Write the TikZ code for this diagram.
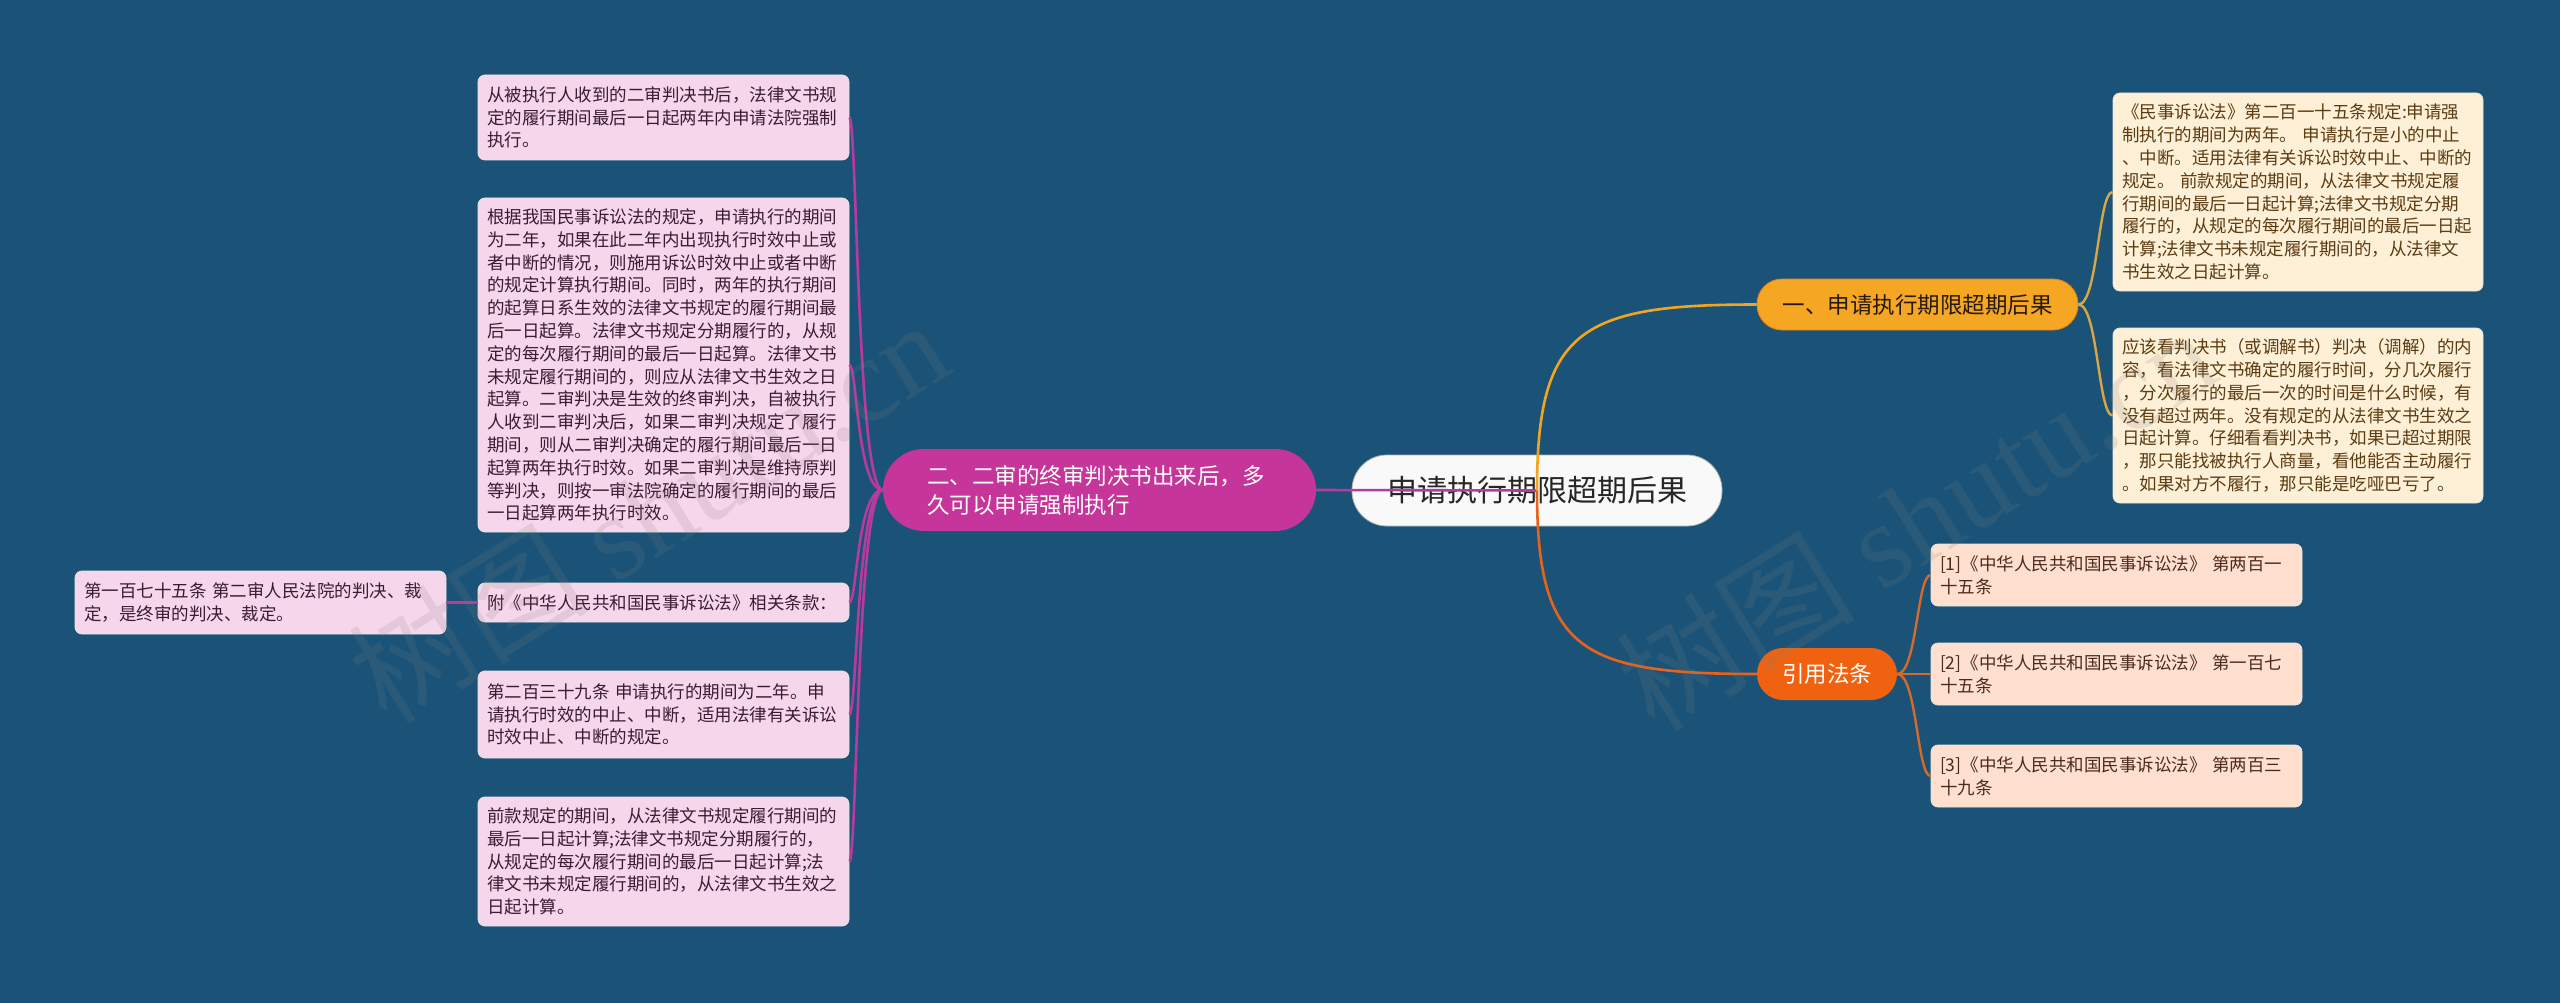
\documentclass[tikz,border=0pt]{standalone}
\usepackage{fontspec}
\setmainfont{Noto Sans CJK SC}
\newfontfamily\cjk{Noto Sans CJK SC}
\newfontfamily\wmserif{Liberation Serif}
\definecolor{bgc}{HTML}{1B5378}
\definecolor{pinkfill}{HTML}{F6D6EB}
\definecolor{pinktext}{HTML}{3B1B33}
\definecolor{pinkline}{HTML}{B83A9C}
\definecolor{mainpink}{HTML}{C5359A}
\definecolor{mainorange}{HTML}{F5A623}
\definecolor{mainred}{HTML}{F0620F}
\definecolor{rfill}{HTML}{FEF0D6}
\definecolor{rtext}{HTML}{5B3B12}
\definecolor{rline}{HTML}{D9A646}
\definecolor{cfill}{HTML}{FFE0CE}
\definecolor{ctext}{HTML}{4B2B1B}
\definecolor{cline}{HTML}{D7692A}
\definecolor{upline}{HTML}{F2A51E}
\definecolor{downline}{HTML}{E8621A}
\tikzset{
  leafbox/.style={rounded corners=7pt, draw=white!80!gray, line width=0.8pt,
    align=left, inner xsep=9pt, inner ysep=4pt,
    font=\cjk\fontsize{17.5}{22.8}\selectfont},
  pbox/.style={leafbox, fill=pinkfill, text=pinktext, text width=353pt, minimum width=371pt},
  rbox/.style={leafbox, fill=rfill, text=rtext, text width=352pt, minimum width=370pt},
  cbox/.style={leafbox, fill=cfill, text=ctext, text width=353pt, minimum width=371pt},
  centerbox/.style={rounded corners=35pt, fill=white!95!gray, draw=gray!60, line width=0.8pt,
    minimum width=370pt, minimum height=71pt, text=black!85,
    font=\cjk\fontsize{30}{36}\selectfont},
  pinkmain/.style={rounded corners=41pt, fill=mainpink, text=white, align=left,
    text width=345pt, inner xsep=44pt, minimum height=82pt,
    font=\cjk\fontsize{22.5}{29}\selectfont},
  orangemain/.style={rounded corners=25pt, fill=mainorange, draw=orange!70!brown, line width=0.8pt,
    text=black!80!brown, minimum width=321pt, minimum height=51pt,
    font=\cjk\fontsize{22.5}{27}\selectfont},
  redmain/.style={rounded corners=26pt, fill=mainred, text=white,
    minimum width=140pt, minimum height=52pt,
    font=\cjk\fontsize{22.5}{27}\selectfont},
  pconn/.style={draw=pinkline, line width=2.6pt},
  rconn/.style={draw=rline, line width=2.4pt},
  cconn/.style={draw=cline, line width=2.4pt},
  wmark/.style={text=gray, opacity=0.16, rotate=32, font=\cjk\fontsize{120}{125}\selectfont}
}
\begin{document}
\begin{tikzpicture}[x=1pt,y=-1pt]
\fill[bgc] (0,0) rectangle (2560,1003);
\useasboundingbox (0,0) rectangle (2560,1003);

% central
\node[centerbox] (c) at (1537,490.5) {申请执行期限超期后果};
% main branches
\node[pinkmain] (pm) at (1099.5,490) {二、二审的终审判决书出来后，多\\久可以申请强制执行};
\node[orangemain] (o1) at (1917.5,304.5) {一、申请执行期限超期后果};
\node[redmain] (o2) at (1827,674) {引用法条};

% left leaves
\node[pbox, minimum height=85pt] (l1) at (663.5,117.5) {从被执行人收到的二审判决书后，法律文书规\\定的履行期间最后一日起两年内申请法院强制\\执行。};
\node[pbox, minimum height=334pt] (l2) at (663.5,365) {根据我国民事诉讼法的规定，申请执行的期间\\为二年，如果在此二年内出现执行时效中止或\\者中断的情况，则施用诉讼时效中止或者中断\\的规定计算执行期间。同时，两年的执行期间\\的起算日系生效的法律文书规定的履行期间最\\后一日起算。法律文书规定分期履行的，从规\\定的每次履行期间的最后一日起算。法律文书\\未规定履行期间的，则应从法律文书生效之日\\起算。二审判决是生效的终审判决，自被执行\\人收到二审判决后，如果二审判决规定了履行\\期间，则从二审判决确定的履行期间最后一日\\起算两年执行时效。如果二审判决是维持原判\\等判决，则按一审法院确定的履行期间的最后\\一日起算两年执行时效。};
\node[pbox, minimum height=39pt] (l3) at (663.5,602.5) {附《中华人民共和国民事诉讼法》相关条款：};
\node[pbox, minimum height=63pt] (l3a) at (260.5,602.5) {第一百七十五条 第二审人民法院的判决、裁\\定，是终审的判决、裁定。};
\node[pbox, minimum height=87pt] (l4) at (663.5,714.5) {第二百三十九条 申请执行的期间为二年。申\\请执行时效的中止、中断，适用法律有关诉讼\\时效中止、中断的规定。};
\node[pbox, minimum height=129pt] (l5) at (663.5,861.5) {前款规定的期间，从法律文书规定履行期间的\\最后一日起计算;法律文书规定分期履行的，\\从规定的每次履行期间的最后一日起计算;法\\律文书未规定履行期间的，从法律文书生效之\\日起计算。};

% right leaves
\node[rbox, minimum height=198pt] (r1) at (2298,192) {《民事诉讼法》第二百一十五条规定:申请强\\制执行的期间为两年。 申请执行是小的中止\\、中断。适用法律有关诉讼时效中止、中断的\\规定。 前款规定的期间，从法律文书规定履\\行期间的最后一日起计算;法律文书规定分期\\履行的，从规定的每次履行期间的最后一日起\\计算;法律文书未规定履行期间的，从法律文\\书生效之日起计算。};
\node[rbox, minimum height=175pt] (r2) at (2298,415.5) {应该看判决书（或调解书）判决（调解）的内\\容，看法律文书确定的履行时间，分几次履行\\，分次履行的最后一次的时间是什么时候，有\\没有超过两年。没有规定的从法律文书生效之\\日起计算。仔细看看判决书，如果已超过期限\\，那只能找被执行人商量，看他能否主动履行\\。如果对方不履行，那只能是吃哑巴亏了。};

% citations
\node[cbox, minimum height=62pt] (c1) at (2116.5,575) {[1]《中华人民共和国民事诉讼法》 第两百一\\十五条};
\node[cbox, minimum height=62pt] (c2) at (2116.5,674) {[2]《中华人民共和国民事诉讼法》 第一百七\\十五条};
\node[cbox, minimum height=62pt] (c3) at (2116.5,776) {[3]《中华人民共和国民事诉讼法》 第两百三\\十九条};

% connectors from center
\draw[pconn] (c.center) -- (pm.east);
\draw[draw=upline, line width=2.6pt] (c.center) .. controls (1537,330) and (1580,304.5) .. (o1.west);
\draw[draw=downline, line width=2.6pt] (c.center) .. controls (1537,650) and (1580,674) .. (o2.west);

% left connectors
\foreach \n in {l1,l2,l3,l4,l5}{
  \draw[pconn] (pm.west) .. controls (857,490) and (857,490 |- \n.east) .. (\n.east);
}
\draw[pconn] (l3.west) -- (l3a.east);

% right connectors
\foreach \n in {r1,r2}{
  \draw[rconn] (o1.east) .. controls (2098,304.5) and (2098,304.5 |- \n.west) .. (\n.west);
}
\foreach \n in {c1,c2,c3}{
  \draw[cconn] (o2.east) .. controls (1917,674) and (1917,674 |- \n.west) .. (\n.west);
}

% watermarks
\node[wmark] (wm1) at (648,510) {树图 {\wmserif shutu.cn}};
\node[wmark] (wm2) at (1915,518) {树图 {\wmserif shutu.cn}};
\end{tikzpicture}
\end{document}
